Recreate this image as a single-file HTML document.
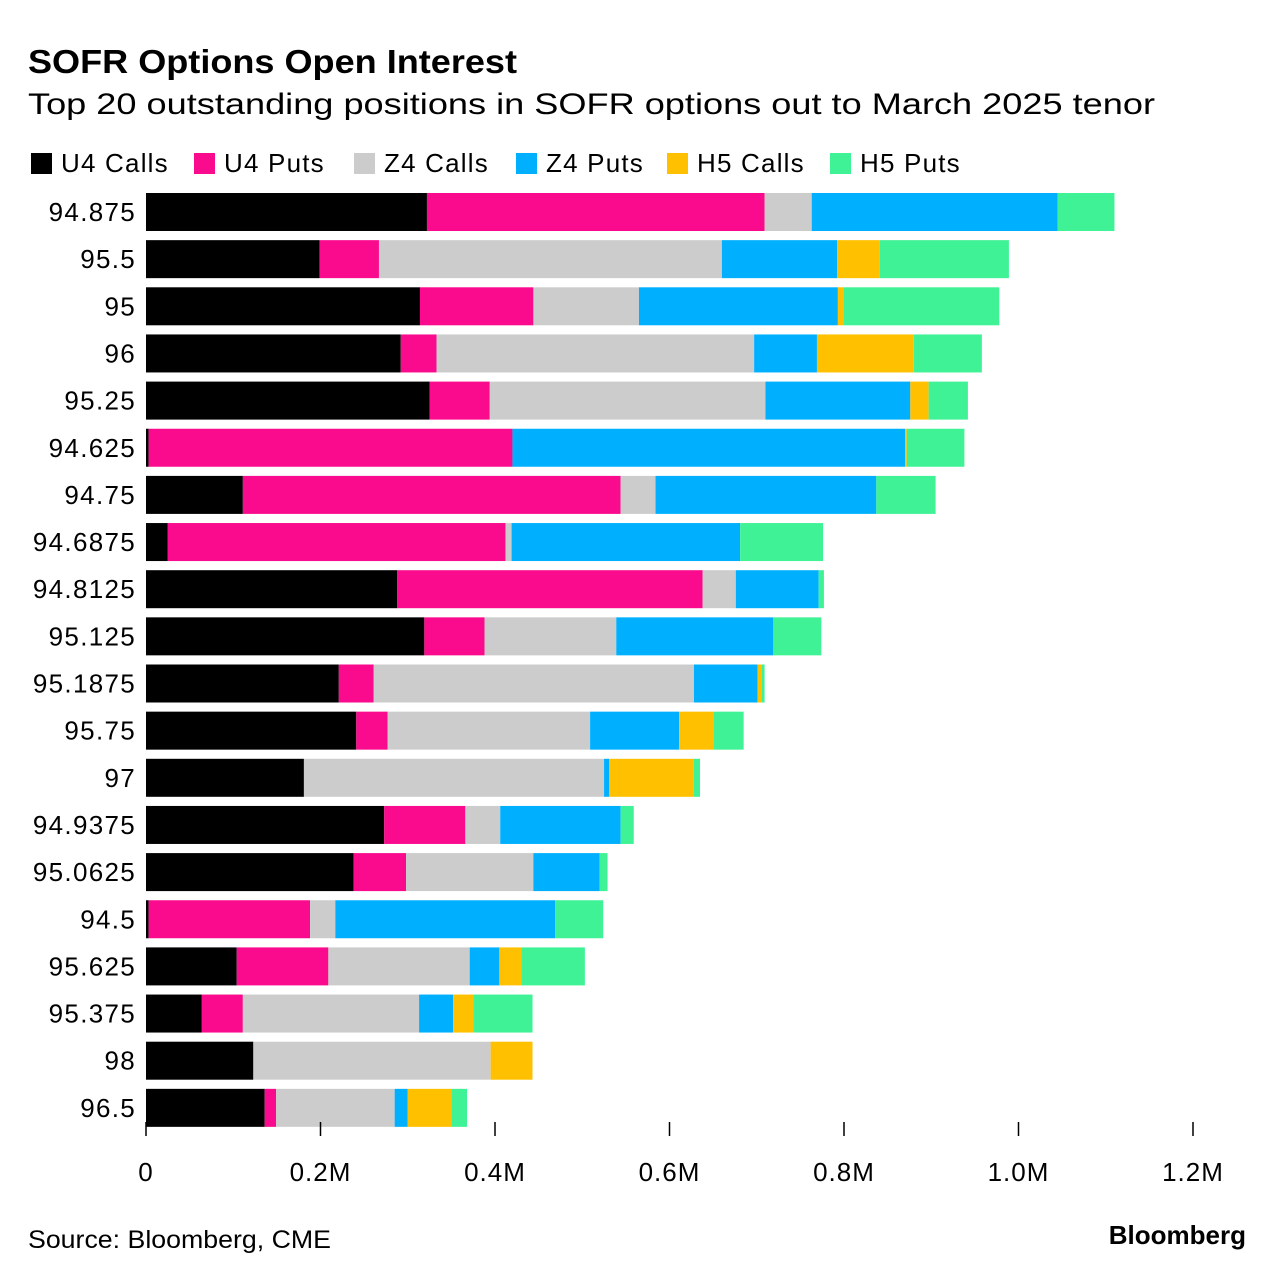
<!DOCTYPE html>
<html><head><meta charset="utf-8"><style>
body{margin:0;background:#fff;font-family:"Liberation Sans",Arial,sans-serif;}
</style></head><body>
<svg id="chart" width="1285" height="1280" xmlns="http://www.w3.org/2000/svg">
<text x="28" y="73" font-size="33" font-weight="bold" fill="#000" textLength="489" lengthAdjust="spacingAndGlyphs">SOFR Options Open Interest</text>
<text x="28" y="114" font-size="30" fill="#000" textLength="1127" lengthAdjust="spacingAndGlyphs">Top 20 outstanding positions in SOFR options out to March 2025 tenor</text>
<g id="legend"></g>
<g id="bars"></g>
<g id="axis"></g>
<text x="28" y="1248" font-size="25" fill="#000" textLength="303" lengthAdjust="spacingAndGlyphs">Source: Bloomberg, CME</text>
<text x="1246" y="1244" font-size="26" font-weight="bold" fill="#000" text-anchor="end">Bloomberg</text>
</svg>
<script>
const categories=["94.875","95.5","95","96","95.25","94.625","94.75","94.6875","94.8125","95.125","95.1875","95.75","97","94.9375","95.0625","94.5","95.625","95.375","98","96.5"];
const seriesNames=["U4 Calls","U4 Puts","Z4 Calls","Z4 Puts","H5 Calls","H5 Puts"];
const seriesColors=["#000000","#fa0a8c","#cccccc","#00b0ff","#ffc000","#3ff295"];
// values in thousands of contracts
const u4Calls=[322,199,314,292,325,3,111,25,288,319,221,241,181,273,238,3,104,64,123,136];
const u4Puts=[387,68,130,41,69,417,433,387,350,69,40,36,0,93,60,185,105,47,0,13];
const z4Calls=[54,393,121,364,316,0,40,7,38,151,367,232,344,40,146,29,162,202,272,136];
const z4Puts=[282,132,228,72,166,450,253,262,95,180,73,102,6,138,76,252,34,39,0,15];
const h5Calls=[0,49,7,111,21,2,0,0,0,0,5,40,97,0,0,0,25,23,48,50];
const h5Puts=[65,148,178,78,45,66,68,95,6,55,3,34,7,15,9,55,73,68,0,18];
const tickValues=[0,200,400,600,800,1000,1200];
const tickLabels=["0","0.2M","0.4M","0.6M","0.8M","1.0M","1.2M"];
const series=[u4Calls,u4Puts,z4Calls,z4Puts,h5Calls,h5Puts];
const NS="http://www.w3.org/2000/svg";
const x0=146,pxPerK=872.5/1000;
const xScale=v=>x0+v*pxPerK;
const rowY=i=>193+i*47.15;
const barH=38;
function mk(tag,attrs,parent){const e=document.createElementNS(NS,tag);for(const k in attrs)e.setAttribute(k,attrs[k]);parent.appendChild(e);return e;}
const leg=document.getElementById('legend');
let lx=31;
const legW=[163,160,162,151,163,140];
seriesNames.forEach((n,i)=>{
  const g=mk('g',{},leg);
  
  
  mk('rect',{x:lx,y:153,width:21,height:21,fill:seriesColors[i]},g);
  const t=mk('text',{x:lx+30,y:172,'font-size':26,fill:'#000','letter-spacing':1.2},g);t.textContent=n;
  lx+=legW[i];
});
const bars=document.getElementById('bars');
categories.forEach((c,i)=>{
  const y=rowY(i);
  const lab=mk('text',{x:136,y:y+barH/2+9,'font-size':26,fill:'#000','text-anchor':'end','letter-spacing':1.3},bars);
  lab.textContent=c;
  
  
  let cum=0;
  series.forEach((s,j)=>{
    const v=s[i];if(v<=0)return;
    const r=mk('rect',{x:xScale(cum),y:y,width:xScale(cum+v)-xScale(cum),height:barH,fill:seriesColors[j]},bars);
    
    
    cum+=v;
  });
});
const ax=document.getElementById('axis');
tickValues.forEach((v,i)=>{
  const x=xScale(v);
  const l=mk('line',{x1:x,x2:x,y1:1122,y2:1136,stroke:'#000','stroke-width':1.5},ax);
  
  
  const t=mk('text',{x:x,y:1181,'font-size':26,fill:'#000','text-anchor':'middle','letter-spacing':1},ax);
  t.textContent=tickLabels[i];
  
  
});
</script>
</body></html>
